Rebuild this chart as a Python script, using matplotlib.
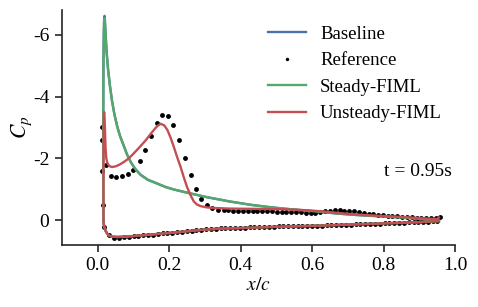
import matplotlib
matplotlib.use("Agg")
import matplotlib.pyplot as plt

plt.rcParams['font.family'] = ['Liberation Serif', 'DejaVu Serif']
plt.rcParams['mathtext.fontset'] = 'stix'
plt.rcParams['axes.unicode_minus'] = False

# ---------------- data ----------------
# lower surface (TE -> LE), shared shape for the model curves
lower_x = [0.955, 0.90, 0.80, 0.70, 0.60, 0.50, 0.40, 0.34, 0.28, 0.22, 0.18, 0.14,
           0.10, 0.075, 0.055, 0.041, 0.033, 0.027, 0.022, 0.019, 0.017, 0.016]
steady_lower_cp = [0.04, 0.07, 0.11, 0.15, 0.19, 0.22, 0.26, 0.28, 0.33, 0.40, 0.44, 0.48,
                   0.52, 0.54, 0.55, 0.54, 0.51, 0.45, 0.35, 0.25, 0.15, 0.02]
unsteady_lower_cp = [0.03, 0.07, 0.11, 0.15, 0.19, 0.22, 0.26, 0.28, 0.33, 0.40, 0.44, 0.48,
                     0.52, 0.54, 0.55, 0.54, 0.51, 0.45, 0.35, 0.25, 0.15, 0.02]

# upper surface (LE -> TE)
steady_upper_x = [0.0155, 0.0155, 0.016, 0.017, 0.018, 0.019, 0.020, 0.022, 0.025, 0.029,
                  0.034, 0.040, 0.047, 0.055, 0.063, 0.072, 0.082, 0.093, 0.105, 0.12,
                  0.14, 0.167, 0.19, 0.213, 0.26, 0.306, 0.37, 0.43, 0.48, 0.52, 0.60,
                  0.67, 0.74, 0.81, 0.88, 0.955]
steady_upper_cp = [-1.0, -3.5, -5.0, -6.0, -6.45, -6.55, -6.45, -6.0, -5.4, -4.85,
                   -4.35, -3.85, -3.4, -3.0, -2.7, -2.43, -2.12, -1.86, -1.65, -1.46,
                   -1.30, -1.18, -1.07, -0.99, -0.86, -0.74, -0.60, -0.49, -0.42, -0.37, -0.29,
                   -0.21, -0.15, -0.11, -0.06, 0.02]
baseline_upper_cp = [-1.0, -3.5, -5.1, -6.1, -6.55, -6.62, -6.5, -6.05, -5.45, -4.9,
                     -4.38, -3.87, -3.42, -3.02, -2.71, -2.44, -2.13, -1.87, -1.66, -1.47,
                     -1.31, -1.18, -1.07, -0.99, -0.86, -0.74, -0.60, -0.49, -0.42, -0.37, -0.29,
                     -0.21, -0.15, -0.11, -0.06, 0.02]

unsteady_upper_x = [0.016, 0.016, 0.0165, 0.017, 0.018, 0.019, 0.020, 0.022, 0.024, 0.027,
                    0.031, 0.036, 0.041, 0.05, 0.06, 0.073, 0.087, 0.10, 0.117, 0.134,
                    0.15, 0.16, 0.167, 0.176, 0.186, 0.195, 0.204, 0.213, 0.222, 0.232,
                    0.241, 0.25, 0.26, 0.269, 0.278, 0.288, 0.305, 0.325, 0.37, 0.45,
                    0.52, 0.58, 0.63, 0.67, 0.72, 0.78, 0.85, 0.92, 0.95, 0.955]
unsteady_upper_cp = [-0.5, -2.0, -3.0, -3.4, -3.5, -3.35, -3.0, -2.3, -2.0, -1.85,
                     -1.77, -1.73, -1.72, -1.74, -1.79, -1.88, -2.0, -2.15, -2.36, -2.58,
                     -2.82, -2.96, -3.05, -3.12, -3.07, -2.92, -2.67, -2.37, -2.05, -1.72,
                     -1.38, -1.07, -0.80, -0.60, -0.50, -0.45, -0.41, -0.39, -0.37, -0.36,
                     -0.35, -0.32, -0.28, -0.23, -0.18, -0.14, -0.10, -0.05, -0.03, -0.08]

# reference data (dots)
ref_upper_x = [0.013, 0.013, 0.013, 0.014, 0.024, 0.036, 0.052, 0.067, 0.084, 0.100, 0.117,
               0.133, 0.149, 0.165, 0.181, 0.196, 0.212, 0.228, 0.245, 0.260, 0.276,
               0.290, 0.306, 0.321, 0.337, 0.353, 0.366, 0.380, 0.393, 0.407, 0.420,
               0.434, 0.447, 0.461, 0.474, 0.488, 0.501, 0.515, 0.528, 0.542, 0.555,
               0.569, 0.582, 0.596, 0.609, 0.623, 0.636, 0.650, 0.663, 0.677, 0.690,
               0.704, 0.717, 0.731, 0.744, 0.758, 0.771, 0.785, 0.798, 0.812, 0.825,
               0.839, 0.852, 0.866, 0.879, 0.893, 0.906, 0.920, 0.933, 0.947, 0.958]
ref_upper_cp = [-3.0, -2.6, -1.58, -0.48, -1.77, -1.42, -1.40, -1.42, -1.49, -1.63, -1.90,
                -2.28, -2.74, -3.16, -3.40, -3.36, -3.09, -2.58, -2.00, -1.45, -1.00,
                -0.68, -0.48, -0.38, -0.32, -0.31, -0.31, -0.30, -0.30, -0.30, -0.29,
                -0.29, -0.29, -0.28, -0.28, -0.28, -0.27, -0.27, -0.26, -0.26, -0.25,
                -0.25, -0.24, -0.23, -0.22, -0.25, -0.28, -0.30, -0.31, -0.31, -0.30,
                -0.29, -0.28, -0.26, -0.24, -0.21, -0.19, -0.17, -0.16, -0.14, -0.13,
                -0.12, -0.11, -0.10, -0.09, -0.08, -0.07, -0.06, -0.06, -0.05, -0.11]
ref_lower_x = [0.018, 0.032, 0.046, 0.060, 0.074, 0.087, 0.101, 0.114, 0.128, 0.141, 0.155,
               0.168, 0.182, 0.195, 0.209, 0.222, 0.236, 0.249, 0.263, 0.276, 0.290,
               0.303, 0.317, 0.330, 0.344, 0.357, 0.371, 0.384, 0.398, 0.411, 0.425,
               0.438, 0.452, 0.465, 0.479, 0.492, 0.506, 0.519, 0.533, 0.546, 0.560,
               0.573, 0.587, 0.600, 0.614, 0.627, 0.641, 0.654, 0.668, 0.681, 0.695,
               0.708, 0.722, 0.735, 0.749, 0.762, 0.776, 0.789, 0.803, 0.816, 0.830,
               0.843, 0.857, 0.870, 0.884, 0.897, 0.911, 0.924, 0.938, 0.951]
ref_lower_cp = [0.22, 0.50, 0.57, 0.57, 0.56, 0.55, 0.53, 0.52, 0.50, 0.48, 0.47,
                0.45, 0.43, 0.42, 0.41, 0.39, 0.38, 0.36, 0.35, 0.33, 0.32,
                0.30, 0.29, 0.28, 0.27, 0.27, 0.26, 0.26, 0.25, 0.25, 0.24,
                0.24, 0.23, 0.23, 0.22, 0.22, 0.21, 0.21, 0.21, 0.20, 0.20,
                0.19, 0.19, 0.18, 0.18, 0.18, 0.17, 0.17, 0.16, 0.16, 0.15,
                0.15, 0.14, 0.14, 0.13, 0.13, 0.12, 0.12, 0.11, 0.11, 0.10,
                0.10, 0.09, 0.08, 0.08, 0.07, 0.06, 0.05, 0.04, 0.03]

x_ticks = [0.0, 0.2, 0.4, 0.6, 0.8, 1.0]
y_ticks = [-6, -4, -2, 0]
time_label = "t = 0.95s"

colors = {"Baseline": "#4C72B0", "Steady-FIML": "#55A868", "Unsteady-FIML": "#C44E52"}

# ---------------- plot ----------------
fig = plt.figure(figsize=(4.78, 3.07), dpi=100)
ax = fig.add_axes([62 / 478, 1 - 245 / 307, 393 / 478, 235 / 307])

ax.plot(lower_x + steady_upper_x, steady_lower_cp + baseline_upper_cp,
        color=colors["Baseline"], lw=1.7, label="Baseline")
ax.plot(ref_upper_x + ref_lower_x, ref_upper_cp + ref_lower_cp, 'o', color='black',
        ms=3.5, mew=0, label="Reference")
ax.plot(lower_x + steady_upper_x, steady_lower_cp + steady_upper_cp,
        color=colors["Steady-FIML"], lw=1.7, label="Steady-FIML")
ax.plot(lower_x + unsteady_upper_x, unsteady_lower_cp + unsteady_upper_cp,
        color=colors["Unsteady-FIML"], lw=1.7, label="Unsteady-FIML")

ax.set_xlim(-0.1, 1.0)
ax.set_ylim(0.81, -6.81)
ax.set_xticks(x_ticks)
ax.set_xticklabels([f"{v:.1f}" for v in x_ticks])
ax.set_yticks(y_ticks)
ax.set_yticklabels([str(v) for v in y_ticks])

for s in ("top", "right"):
    ax.spines[s].set_visible(False)
for s in ("left", "bottom"):
    ax.spines[s].set_linewidth(1.2)
    ax.spines[s].set_color("#262626")
ax.tick_params(direction='out', length=5, width=1.2, color="#262626",
               labelsize=14, labelcolor='black', pad=4)

ax.set_xlabel(r"$x/c$", fontsize=14, labelpad=2)
ax.set_ylabel(r"$C_p$", fontsize=15.5, labelpad=-1)

ax.text(0.99, -1.58, time_label, fontsize=14, ha='right', va='center')

leg = ax.legend(loc='upper left', bbox_to_anchor=(0.504, 0.965), borderaxespad=0,
                frameon=False, fontsize=13.5, handlelength=2.05, handletextpad=0.75,
                labelspacing=0.5, markerscale=0.7)

fig.savefig("out.png", dpi=100)
